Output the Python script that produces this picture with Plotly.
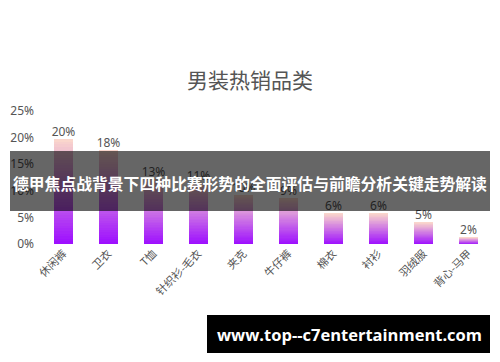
import plotly.graph_objects as go

categories = ["休闲裤", "卫衣", "T恤", "针织衫-毛衣", "夹克", "牛仔裤", "棉衣", "衬衫", "羽绒服", "背心-马甲"]
values = [19.7, 17.6, 12.3, 11.4, 9.2, 8.6, 5.8, 5.8, 4.1, 1.3]
value_labels = ["20%", "18%", "13%", "11%", "10%", "9%", "6%", "6%", "5%", "2%"]
y_ticks = [0, 5, 10, 15, 20, 25]
y_tick_labels = ["0%", "5%", "10%", "15%", "20%", "25%"]

title_text = "男装热销品类"
band_text = "德甲焦点战背景下四种比赛形势的全面评估与前瞻分析关键走势解读"
footer_text = "www.top--c7entertainment.com"

W, H = 500, 362
ML, MR, MT, MB = 41, 9, 111, 118

top_rgb = (250, 214, 204)
bot_rgb = (158, 16, 255)
N = 40

fig = go.Figure()
for k in range(N):
    t = k / (N - 1)  # 0 bottom -> 1 top
    r = int(bot_rgb[0] + (top_rgb[0] - bot_rgb[0]) * t)
    g = int(bot_rgb[1] + (top_rgb[1] - bot_rgb[1]) * t)
    b = int(bot_rgb[2] + (top_rgb[2] - bot_rgb[2]) * t)
    fig.add_trace(go.Bar(
        x=categories,
        y=[v / N for v in values],
        marker=dict(color=f"rgb({r},{g},{b})", line=dict(width=0)),
        hoverinfo="skip",
        showlegend=False,
    ))

fig.add_trace(go.Scatter(
    x=categories, y=values, mode="text", text=value_labels,
    textposition="top center",
    textfont=dict(family="Noto Sans, Arial", size=12, color="#555555"),
    showlegend=False, hoverinfo="skip",
))

PW = W - ML - MR
PH = H - MT - MB

def paper_x(x):
    return (x - ML) / PW

def paper_y(y):
    return (H - MB - y) / PH

fig.update_layout(
    width=W, height=H,
    margin=dict(l=ML, r=MR, t=MT, b=MB, autoexpand=False),
    paper_bgcolor="white", plot_bgcolor="white",
    barmode="stack", bargap=0.56,
    title=dict(text=title_text, x=0.5, xanchor="center", y=1 - 81 / H, yanchor="middle",
               font=dict(family="Noto Sans CJK SC", size=21, color="#555555")),
    xaxis=dict(tickangle=-45, showgrid=False, showline=False, zeroline=False, automargin=False,
               tickfont=dict(family="Noto Sans CJK SC", size=11, color="#555555")),
    yaxis=dict(range=[0, 25], tickvals=y_ticks, ticktext=y_tick_labels, showgrid=False,
               showline=False, zeroline=False, ticklabelstandoff=6, automargin=False,
               tickfont=dict(family="Noto Sans, Arial", size=12, color="#555555")),
    shapes=[
        dict(type="rect", xref="paper", yref="paper", layer="above",
             x0=paper_x(10), x1=paper_x(490), y0=paper_y(211), y1=paper_y(151),
             fillcolor="rgba(0,0,0,0.6)", line=dict(width=0)),
        dict(type="rect", xref="paper", yref="paper", layer="above",
             x0=paper_x(207), x1=paper_x(490), y0=paper_y(353), y1=paper_y(315),
             fillcolor="black", line=dict(width=0)),
    ],
    annotations=[
        dict(text=band_text, xref="paper", yref="paper", showarrow=False,
             x=paper_x(250), y=paper_y(183), xanchor="center", yanchor="middle",
             font=dict(family="Noto Sans CJK SC", size=15.8, color="white", weight="bold")),
        dict(text=footer_text, xref="paper", yref="paper", showarrow=False,
             x=paper_x(349), y=paper_y(334), xanchor="center", yanchor="middle",
             font=dict(family="Open Sans", size=16.5, color="white", weight="bold")),
    ],
)

fig.write_html(
    "out.html",
    config={"displayModeBar": False},
    post_script="document.body.style.margin='0';document.body.style.padding='0';document.body.style.overflow='hidden';",
)
